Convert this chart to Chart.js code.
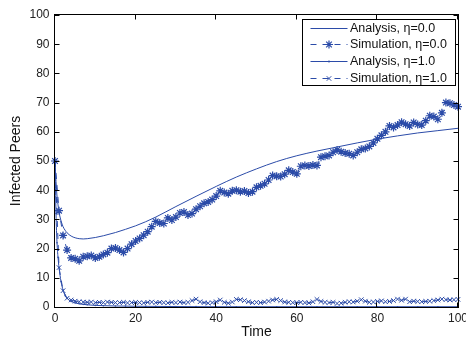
<!DOCTYPE html>
<html>
<head>
<meta charset="utf-8">
<script src="https://cdn.jsdelivr.net/npm/chart.js@4.4.0/dist/chart.umd.min.js"></script>
<style>
  html,body{margin:0;padding:0;background:#fff}
  #wrap{width:466px;height:339px;position:relative}
</style>
</head>
<body>
<div id="wrap"><canvas id="chart"></canvas></div>
<script>
// ---- data ----
const simTime = [
  0,1,2,3,4,5,6,7,8,9,
  10,11,12,13,14,15,16,17,18,19,
  20,21,22,23,24,25,26,27,28,29,
  30,31,32,33,34,35,36,37,38,39,
  40,41,42,43,44,45,46,47,48,49,
  50,51,52,53,54,55,56,57,58,59,
  60,61,62,63,64,65,66,67,68,69,
  70,71,72,73,74,75,76,77,78,79,
  80,81,82,83,84,85,86,87,88,89,
  90,91,92,93,94,95,96,97,98,99,
  100
];
const simEta0 = [
  50,33,24.5,19.5,16.8,16.5,15.8,17.2,17.4,17.6,
  16.8,17.2,18,18.6,20,20.2,19.5,18.7,20,21.5,
  22.6,23.5,24.6,25.8,27.5,29.3,28.8,28.6,30.5,29.8,
  30.8,32.2,32.5,31.5,32,33.5,34.5,35.5,36,36.8,
  38,39.8,39.2,38.8,39.8,40,39.5,39.7,39,39.5,
  41,41.5,42.2,43.5,45,44.8,44.7,45.5,46.8,46.2,
  45.6,48.2,48.5,48.3,48.6,48.5,51.3,51.6,51.9,53,
  53.8,53.2,52.7,52.5,51.9,53,54,54.3,55,56.2,
  57.6,58.8,60,62,61.5,62.3,63.3,62.6,62,63.2,
  62.5,62.3,63.8,65.5,65.2,64.3,66.5,70,69.8,69.2,
  68.6
];
const simEta1 = [
  50,13.5,5.6,3,2.4,2,1.8,1.7,1.6,1.7,
  1.5,1.6,1.5,1.7,1.6,1.5,1.5,1.6,1.4,1.5,
  1.6,1.5,1.4,1.6,1.7,1.5,1.6,1.5,1.4,1.6,
  1.5,1.7,1.5,1.6,2.2,2.7,1.8,1.5,1.3,1.5,
  1.8,2.4,1.6,1.3,1.7,2.6,2.5,2.2,1.8,1.5,
  1.6,1.5,1.7,2,2.4,2.6,2.2,1.7,1.6,1.5,
  1.5,1.6,1.5,1.4,1.8,2.6,1.9,1.6,1.5,1.6,
  1.2,1.3,1.6,1.8,1.7,2,2.5,2,1.6,1.7,
  1.9,2.1,1.8,1.9,2.2,2.7,2.3,2.7,1.8,2,
  1.9,1.8,1.9,2,2.2,2.4,2.7,2.5,2.4,2.5,
  2.6
];
const analysisTime = [0,0.25,0.5,0.75,1,1.5,2,2.5,3,4,5,6,7,8,10,12,15,17.5,20,22.5,25,30,35,40,45,50,55,60,65,70,75,80,85,90,95,100];
const analysisEta0 = [50,43,38,35,32.5,29.5,27.5,26.3,25.4,24.3,23.7,23.4,23.3,23.4,23.8,24.4,25.5,26.6,27.8,29.2,30.8,34.4,37.9,41.3,44.5,47.3,49.8,51.8,53.4,54.8,56.2,57.5,58.6,59.6,60.4,61.2];
const analysisEta1 = [50,32,22,17,13.5,8.7,5.8,4,3,1.9,1.4,1.1,0.9,0.75,0.55,0.45,0.35,0.3,0.25,0.22,0.2,0.15,0.12,0.1,0.1,0.1,0.1,0.1,0.1,0.1,0.1,0.1,0.1,0.1,0.1,0.1];
const seriesLabels = ['Analysis, \u03b7=0.0','Simulation, \u03b7=0.0','Analysis, \u03b7=1.0','Simulation, \u03b7=1.0'];
const xTicks = [0,20,40,60,80,100];
const yTicks = [0,10,20,30,40,50,60,70,80,90,100];

const BLUE = '#2b4ba8';
const FONT = "'Liberation Sans', Arial, Helvetica, sans-serif";
const pts = (xs, ys) => xs.map((x,i)=>({x, y:ys[i]}));

// small marker painter, used for the legend samples
function marker(ctx, style, cx, cy, r){
  ctx.beginPath();
  if(style==='star' || style==='cross'){ ctx.moveTo(cx-r,cy); ctx.lineTo(cx+r,cy); ctx.moveTo(cx,cy-r); ctx.lineTo(cx,cy+r); }
  if(style==='star' || style==='crossRot'){ const d=r*0.7071; ctx.moveTo(cx-d,cy-d); ctx.lineTo(cx+d,cy+d); ctx.moveTo(cx-d,cy+d); ctx.lineTo(cx+d,cy-d); }
  ctx.stroke();
  if(style==='circle'){ ctx.beginPath(); ctx.arc(cx,cy,r,0,Math.PI*2); ctx.fill(); }
}

// box round the axes, with inward ticks on all four sides
const axesFrame = {
  id:'axesFrame',
  afterDatasetsDraw(chart){
    const {ctx, chartArea:a, scales:{x,y}} = chart;
    const L=a.left-0.5, R=a.right+0.5, T=a.top-0.5, B=a.bottom+0.5, tk=5;
    ctx.save();
    ctx.strokeStyle='#000'; ctx.lineWidth=1;
    ctx.strokeRect(L,T,R-L,B-T);
    ctx.beginPath();
    xTicks.forEach(v=>{ const p=Math.round(x.getPixelForValue(v))-0.5; ctx.moveTo(p,B); ctx.lineTo(p,B-tk); ctx.moveTo(p,T); ctx.lineTo(p,T+tk); });
    yTicks.forEach(v=>{ const p=Math.round(y.getPixelForValue(v))+0.5; ctx.moveTo(L,p); ctx.lineTo(L+tk,p); ctx.moveTo(R,p); ctx.lineTo(R-tk,p); });
    ctx.stroke();
    ctx.restore();
  }
};

// MATLAB style legend box in the upper right corner
const boxLegend = {
  id:'boxLegend',
  afterDatasetsDraw(chart){
    const {ctx, chartArea:a} = chart;
    const w=153, h=66, x0=a.right-w-2.5, y0=a.top+4.5, row=16.8;
    ctx.save();
    ctx.fillStyle='#fff'; ctx.fillRect(x0,y0,w,h);
    ctx.strokeStyle='#000'; ctx.lineWidth=1; ctx.strokeRect(x0,y0,w,h);
    ctx.font = "12.5px " + FONT;
    ctx.textBaseline='middle';
    chart.data.datasets.forEach((ds,i)=>{
      const cy = Math.round(y0 + 8 + i*row) + 0.5;
      const sx = x0+8, ex = x0+45, mx = (sx+ex)/2;
      ctx.strokeStyle=BLUE; ctx.fillStyle=BLUE; ctx.lineWidth=1;
      ctx.setLineDash(ds.borderDash||[]);
      ctx.beginPath(); ctx.moveTo(sx,cy); ctx.lineTo(ex,cy); ctx.stroke();
      ctx.setLineDash([]);
      ctx.lineWidth = ds.pointBorderWidth||1;
      if(ds.pointRadius>0) marker(ctx, ds.pointStyle, mx, cy, ds.pointStyle==='circle'?1:ds.pointRadius);
      ctx.fillStyle='#111';
      ctx.fillText(ds.label, ex+2.5, cy+0.5);
    });
    ctx.restore();
  }
};

new Chart(document.getElementById('chart'), {
  type:'line',
  data:{
    datasets:[
      { label:seriesLabels[0], data:pts(analysisTime,analysisEta0), borderColor:BLUE, borderWidth:1,
        pointRadius:0, cubicInterpolationMode:'monotone' },
      { label:seriesLabels[1], data:pts(simTime,simEta0), borderColor:BLUE, borderWidth:1, borderDash:[6,6],
        pointStyle:'star', pointRadius:4, pointBorderWidth:1.2, pointBorderColor:BLUE, pointBackgroundColor:BLUE, clip:false },
      { label:seriesLabels[2], data:pts(analysisTime,analysisEta1), borderColor:BLUE, borderWidth:1,
        pointStyle:'circle', pointRadius:0.8, pointBorderWidth:0, pointBackgroundColor:BLUE, cubicInterpolationMode:'monotone' },
      { label:seriesLabels[3], data:pts(simTime,simEta1), borderColor:BLUE, borderWidth:1, borderDash:[6,6],
        pointStyle:'crossRot', pointRadius:3.2, pointBorderWidth:1, pointBorderColor:BLUE, clip:false }
    ]
  },
  options:{
    responsive:true, maintainAspectRatio:false, animation:false, devicePixelRatio:1,
    layout:{ padding:{ top:15, right:8, left:0, bottom:0 } },
    plugins:{ legend:{display:false}, tooltip:{enabled:false} },
    scales:{
      x:{
        type:'linear', min:0, max:100,
        grid:{display:false, drawTicks:false}, border:{display:false},
        ticks:{ stepSize:20, padding:4, color:'#222', font:{size:12, family:FONT}, maxRotation:0, autoSkip:false },
        title:{ display:true, text:'Time', color:'#111', font:{size:14, family:FONT, lineHeight:1.2}, padding:{top:0,bottom:-2} },
        afterFit(s){ s.height=32; s.paddingLeft=0; s.paddingRight=0; }
      },
      y:{
        type:'linear', min:0, max:100,
        grid:{display:false, drawTicks:false}, border:{display:false},
        ticks:{ stepSize:10, padding:5.5, color:'#222', font:{size:12, family:FONT} },
        title:{ display:true, text:'Infected Peers', color:'#111', font:{size:14, family:FONT, lineHeight:1.2}, padding:{top:8,bottom:0} },
        afterFit(s){ s.width=55; s.paddingTop=0; s.paddingBottom=0; }
      }
    }
  },
  plugins:[axesFrame, boxLegend]
});
</script>
</body>
</html>
